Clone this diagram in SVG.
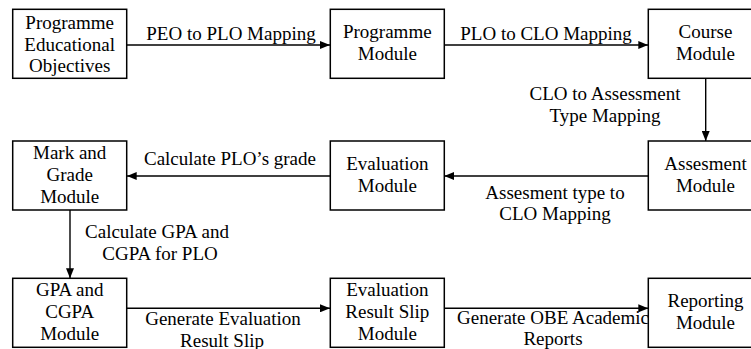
<svg xmlns="http://www.w3.org/2000/svg" width="751" height="349" viewBox="0 0 751 349">
<style>
text{font-family:"Liberation Serif","Times New Roman",serif;font-size:19px;fill:#000;text-anchor:middle}
.box{fill:#fff;stroke:#000;stroke-width:1.5}
.ln{stroke:#000;stroke-width:1.4;fill:none}
</style>
<defs>
<marker id="ah" viewBox="0 0 10 8" refX="10" refY="4" markerWidth="10" markerHeight="8" markerUnits="userSpaceOnUse" orient="auto">
<path d="M0,0 L10,4 L0,8 Z" fill="#000"/>
</marker>
</defs>
<g id="connectors">
<line class="ln" x1="126.7" y1="45" x2="330" y2="45" marker-end="url(#ah)"/>
<text x="231" y="40">PEO to PLO Mapping</text>
<line class="ln" x1="444.3" y1="45" x2="648.3" y2="45" marker-end="url(#ah)"/>
<text x="546" y="40">PLO to CLO Mapping</text>
<line class="ln" x1="705.7" y1="78.3" x2="705.7" y2="141" marker-end="url(#ah)"/>
<text x="605" y="100">CLO to Assessment</text>
<text x="605" y="122">Type Mapping</text>
<line class="ln" x1="648.3" y1="176" x2="444.3" y2="176" marker-end="url(#ah)"/>
<text x="555" y="199">Assesment type to</text>
<text x="555" y="220">CLO Mapping</text>
<line class="ln" x1="330" y1="176" x2="126.7" y2="176" marker-end="url(#ah)"/>
<text x="230" y="165">Calculate PLO’s grade</text>
<line class="ln" x1="70" y1="210" x2="70" y2="278.3" marker-end="url(#ah)"/>
<text x="157" y="238">Calculate GPA and</text>
<text x="160" y="260">CGPA for PLO</text>
<line class="ln" x1="126.7" y1="308.3" x2="330" y2="308.3" marker-end="url(#ah)"/>
<text x="223" y="325">Generate Evaluation</text>
<text x="222" y="346.5">Result Slip</text>
<line class="ln" x1="444.3" y1="308.3" x2="648.3" y2="308.3" marker-end="url(#ah)"/>
<text x="553" y="323.5">Generate OBE Academic</text>
<text x="553" y="345">Reports</text>
</g>
<g id="peo">
<rect class="box" x="12.7" y="9.3" width="114" height="69"/>
<text x="69.7" y="29">Programme</text>
<text x="69.7" y="50.5">Educational</text>
<text x="69.7" y="72">Objectives</text>
</g>
<g id="programme">
<rect class="box" x="330.3" y="9.3" width="114" height="69"/>
<text x="387.3" y="38.3">Programme</text>
<text x="387.3" y="60">Module</text>
</g>
<g id="course">
<rect class="box" x="648.3" y="9.3" width="114" height="69"/>
<text x="705.5" y="38.3">Course</text>
<text x="705.5" y="60">Module</text>
</g>
<g id="markgrade">
<rect class="box" x="12.7" y="141" width="114" height="69"/>
<text x="69.7" y="159">Mark and</text>
<text x="69.7" y="180.5">Grade</text>
<text x="69.7" y="202.5">Module</text>
</g>
<g id="evaluation">
<rect class="box" x="330.3" y="141" width="114" height="69"/>
<text x="387.3" y="169.5">Evaluation</text>
<text x="387.3" y="192">Module</text>
</g>
<g id="assesment">
<rect class="box" x="648.3" y="141" width="114" height="69"/>
<text x="705.5" y="169.5">Assesment</text>
<text x="705.5" y="192">Module</text>
</g>
<g id="gpa">
<rect class="box" x="12.7" y="278.3" width="114" height="69"/>
<text x="69.7" y="296">GPA and</text>
<text x="69.7" y="318">CGPA</text>
<text x="69.7" y="340">Module</text>
</g>
<g id="resultslip">
<rect class="box" x="330.3" y="278.3" width="114" height="69"/>
<text x="387.3" y="296">Evaluation</text>
<text x="387.3" y="318">Result Slip</text>
<text x="387.3" y="340">Module</text>
</g>
<g id="reporting">
<rect class="box" x="648.3" y="278.3" width="114" height="69"/>
<text x="705.5" y="307">Reporting</text>
<text x="705.5" y="329">Module</text>
</g>
</svg>
